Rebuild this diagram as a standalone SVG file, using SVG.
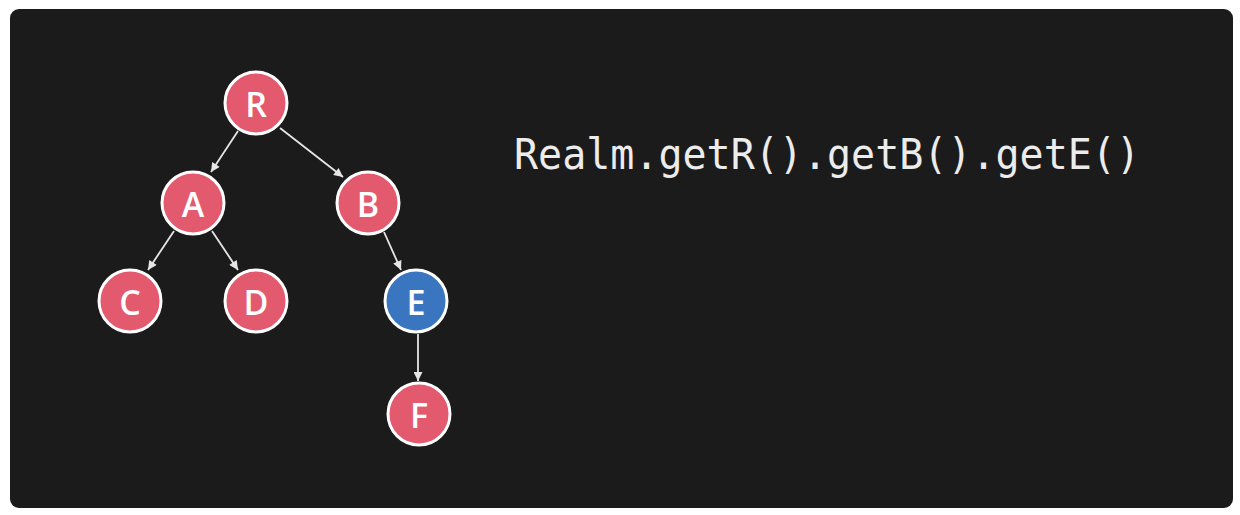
<svg xmlns="http://www.w3.org/2000/svg" width="1240" height="515" viewBox="0 0 1240 515">
<style>
.node circle{stroke:#ffffff;stroke-width:3}
.red{fill:#E3596E}
.blue{fill:#3A76C0}
.node text{font-family:"Open Sans","Noto Sans",sans-serif;font-weight:600;font-size:34px;fill:#ffffff;text-anchor:middle;dominant-baseline:central}
.edge{stroke:#e6e6e6;stroke-width:1.8;fill:none;marker-end:url(#arr)}
.code{font-family:"DejaVu Sans Mono","Liberation Mono",monospace;font-size:42px;fill:#ececec}
</style>
<defs>
<marker id="arr" viewBox="0 0 10 10" refX="10" refY="5" markerWidth="11" markerHeight="9" orient="auto" markerUnits="userSpaceOnUse">
<path d="M0,0 L10,5 L0,10 z" fill="#e6e6e6"/>
</marker>
</defs>
<rect x="0" y="0" width="1240" height="515" fill="#ffffff"/>
<rect x="10" y="9" width="1223" height="499" rx="9" fill="#1b1b1b"/>
<g id="connectors">
<line class="edge" x1="238" y1="131" x2="211" y2="172"/>
<line class="edge" x1="280" y1="128" x2="343" y2="177"/>
<line class="edge" x1="174" y1="231" x2="148" y2="270"/>
<line class="edge" x1="212" y1="231" x2="238" y2="270"/>
<line class="edge" x1="384" y1="232" x2="401" y2="270"/>
<line class="edge" x1="418" y1="334" x2="418" y2="381"/>
</g>
<g id="node-R" class="node"><circle class="red" cx="256" cy="103" r="31"/><text x="256" y="104">R</text></g>
<g id="node-A" class="node"><circle class="red" cx="193" cy="203" r="31"/><text x="193" y="204">A</text></g>
<g id="node-B" class="node"><circle class="red" cx="368" cy="203" r="31"/><text x="368" y="204">B</text></g>
<g id="node-C" class="node"><circle class="red" cx="130" cy="301" r="31"/><text x="130" y="302">C</text></g>
<g id="node-D" class="node"><circle class="red" cx="256" cy="301" r="31"/><text x="256" y="302">D</text></g>
<g id="node-E" class="node"><circle class="blue" cx="416" cy="301" r="31"/><text x="416" y="302">E</text></g>
<g id="node-F" class="node"><circle class="red" cx="419" cy="414" r="31"/><text x="419" y="415">F</text></g>
<text class="code" x="514" y="169" textLength="626" lengthAdjust="spacingAndGlyphs">Realm.getR().getB().getE()</text>
</svg>
